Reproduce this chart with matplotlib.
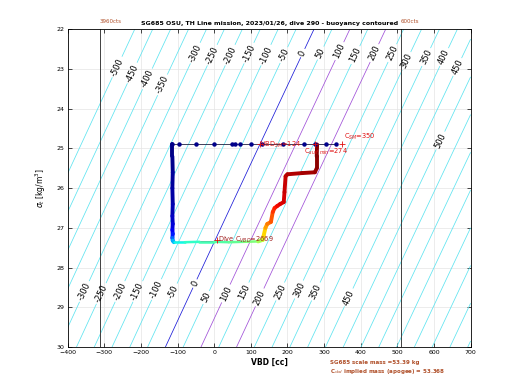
import numpy as np
import matplotlib
matplotlib.use('Agg')
import matplotlib.pyplot as plt
from matplotlib.collections import LineCollection

# vehicle parameters
mass_g = 53368.0          # implied mass (g)
vol0_cc = 51946.7         # volume at VBD=0 (cc)
levels = list(range(-500, 950, 50))
purple_levels = [100, 200]

# label positions (level, sigma)
top_labels = [(-500, 22.95), (-450, 23.1), (-400, 23.25), (-350, 23.4),
              (-300, 22.6), (-250, 22.65), (-200, 22.65), (-150, 22.6),
              (-100, 22.65), (-50, 22.65), (0, 22.6), (50, 22.6), (100, 22.55),
              (150, 22.65), (200, 22.6), (250, 22.6), (300, 22.8), (350, 22.7),
              (400, 22.7), (450, 22.95), (500, 24.8)]
bot_labels = [(-300, 28.6), (-250, 28.65), (-200, 28.6), (-150, 28.6),
              (-100, 28.55), (-50, 28.6), (0, 28.4), (50, 28.75), (100, 28.65),
              (150, 28.6), (200, 28.75), (250, 28.6), (300, 28.55),
              (350, 28.6), (450, 28.75)]

# dive trajectory: VBD [cc], sigma_t, normalized time
traj_vbd = [-114, -114, -113, -114, -113, -114, -113, -114, -113, -114, -113, -110,
            -80, -40, 0, 40, 80, 120, 133,
            135, 140, 145, 155, 160, 165, 172, 180, 190, 192, 195, 200, 240, 275,
            280, 280, 281]
traj_sig = [24.88, 25.2, 25.6, 26.0, 26.4, 26.7, 26.9, 27.05, 27.15, 27.25, 27.32, 27.36,
            27.36, 27.35, 27.35, 27.36, 27.35, 27.34, 27.3,
            27.2, 27.0, 26.9, 26.85, 26.6, 26.5, 26.45, 26.4, 26.35, 26.1, 25.7, 25.65,
            25.62, 25.6, 25.5, 25.2, 24.9]
traj_t = [0.0, 0.01, 0.02, 0.03, 0.04, 0.05, 0.07, 0.09, 0.12, 0.18, 0.26, 0.34,
          0.40, 0.42, 0.44, 0.46, 0.48, 0.52, 0.58,
          0.64, 0.72, 0.76, 0.80, 0.84, 0.87, 0.89, 0.91, 0.92, 0.93, 0.94, 0.95,
          0.96, 0.97, 0.98, 0.99, 1.0]

# surface points
surf_vbd = [-114, -95, -49, 0, 49, 57, 71, 101, 131, 188, 245, 275, 305, 332]
surf_sig = 24.88

cts_lines = [-312, 509]
cts_text = ['3960cts', '600cts']

vbd_sm = 124
c_surf_min = 274
c_sm = 350
dive_cvbd_pos = 8
dive_cvbd = 2669

title = 'SG685 OSU, TH Line mission, 2023/01/26, dive 290 - buoyancy contoured'
brown = '#b0502a'
red = '#e01010'


def vbd_on_level(b, sig):
    return (mass_g + b) * 1000.0 / (1000.0 + sig) - vol0_cc


fig = plt.figure(figsize=(5.2, 3.9), dpi=100)
ax = fig.add_axes([0.13, 0.11, 0.775, 0.815])
ax.set_xlim(-400, 700)
ax.set_ylim(30, 22)

xx = np.linspace(-400, 700, 221)
ss = np.linspace(22, 30, 161)
X, S = np.meshgrid(xx, ss)
B = (1000.0 + S) * (vol0_cc + X) / 1000.0 - mass_g

cols = []
for lv in levels:
    if lv == 0:
        cols.append('#1a1ad8')
    elif lv in purple_levels:
        cols.append('#a050d8')
    else:
        cols.append('#5ee4f0')
cs = ax.contour(X, S, B, levels=levels, colors=cols, linewidths=0.55)

manual = [(vbd_on_level(b, s), s) for b, s in top_labels + bot_labels]
labs = ax.clabel(cs, levels, manual=manual, inline=True, inline_spacing=2,
                 fontsize=6, fmt='%d', colors='k')
# screen angle of the contours (axis is inverted, so set it by hand)
p0 = ax.transData.transform((vbd_on_level(0, 30), 30))
p1 = ax.transData.transform((vbd_on_level(0, 22), 22))
ang = np.degrees(np.arctan2(p1[1] - p0[1], p1[0] - p0[0]))
for t in labs:
    t.set_rotation(ang)

for xv, lab in zip(cts_lines, cts_text):
    ax.axvline(xv, color='#404040', lw=0.7)
    ax.text(xv, 21.87, lab, color=brown, fontsize=4, ha='left', va='bottom')

# trajectory
ax.plot(traj_vbd, traj_sig, color='k', lw=0.5)
pts = np.column_stack([traj_vbd, traj_sig]).reshape(-1, 1, 2)
segs = np.concatenate([pts[:-1], pts[1:]], axis=1)
tmid = 0.5 * (np.array(traj_t[:-1]) + np.array(traj_t[1:]))
widths = [1.8 if s0 > 27.33 and s1 > 27.33 else 2.8
          for s0, s1 in zip(traj_sig[:-1], traj_sig[1:])]
lc = LineCollection(segs, cmap='jet', linewidths=widths, capstyle='round')
lc.set_array(tmid)
lc.set_clim(0, 1)
ax.add_collection(lc)

ax.plot(surf_vbd, [surf_sig] * len(surf_vbd), color='#202040', lw=0.6,
        marker='o', ms=2.2, mfc='#00008b', mec='#00008b')

# annotations
ax.plot([vbd_sm], [surf_sig], '+', color=red, ms=4, mew=0.6)
ax.text(vbd_sm, surf_sig + 0.03, 'VBD$_{SM}$=%d' % vbd_sm, color=red, fontsize=4.8,
        ha='left', va='center')
ax.plot([c_surf_min], [surf_sig], '+', color=red, ms=4, mew=0.6)
ax.text(c_surf_min - 28, surf_sig + 0.08, 'C$_{surf\\ min}$=%d' % c_surf_min, color=red,
        fontsize=4.8, ha='left', va='top')
ax.plot([c_sm], [surf_sig], '+', color=red, ms=4, mew=0.6)
ax.text(c_sm + 4, surf_sig - 0.05, 'C$_{SM}$=%d' % c_sm, color=red, fontsize=4.8,
        ha='left', va='bottom')
ax.plot([dive_cvbd_pos], [27.3], '+', color=red, ms=4, mew=0.6)
ax.text(dive_cvbd_pos + 3, 27.3, 'Dive C$_{VBD}$=%d' % dive_cvbd, color='#a02020',
        fontsize=4.8, ha='left', va='center')

ax.set_xticks(range(-400, 701, 100))
ax.set_yticks(range(22, 31))
ax.tick_params(direction='in', length=3, width=0.5, labelsize=4.5,
               top=True, right=True, pad=2)
ax.grid(True, color='#e4e4e4', lw=0.5)
ax.set_axisbelow(True)
for sp in ax.spines.values():
    sp.set_linewidth(0.6)

ax.set_xlabel('VBD [cc]', fontsize=5.5, fontweight='bold', labelpad=2)
ax.set_ylabel('$\\sigma_t$ [kg/m$^3$]', fontsize=5.5, labelpad=6)
ax.set_title(title, fontsize=4.5, fontweight='bold', pad=3)

fig.text(0.635, 0.067, 'SG685 scale mass =53.39 kg', color=brown, fontsize=4,
         fontweight='bold')
fig.text(0.635, 0.043, 'C$_{vbd}$ implied mass (apogee) = 53.368', color=brown,
         fontsize=4, fontweight='bold')

fig.savefig('out.png', dpi=100)
